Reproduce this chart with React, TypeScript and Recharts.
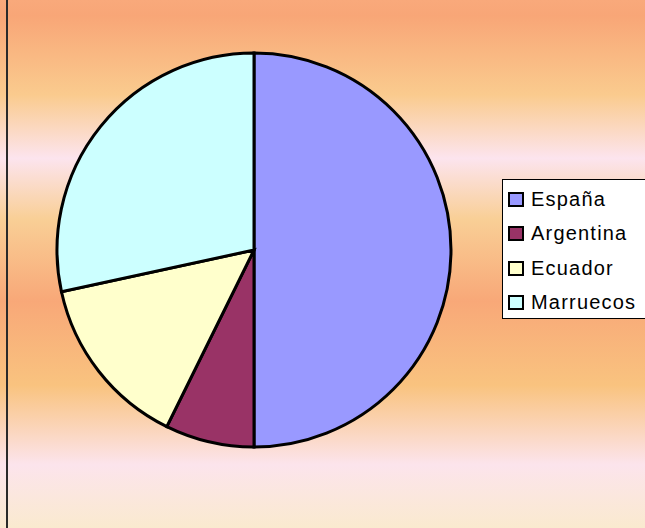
import { PieChart, Pie, Cell, Legend } from "recharts";

const countries = ["España", "Argentina", "Ecuador", "Marruecos"];
const shares = [50, 7.3, 14.3, 28.4];
const colors = ["#9999FF", "#993366", "#FFFFCC", "#CCFFFF"];

const data = countries.map((name, i) => ({ name, value: shares[i] }));

const bg =
  "linear-gradient(to bottom, #F9A97B 0%, #F8A677 3%, #FACB8E 18%, #FCE4EE 30%, #F9CF96 41.5%, #F8A878 57%, #F9C37F 73%, #FCE4EC 88%, #FAEACF 100%)";

function LegendBox() {
  return (
    <div
      style={{
        background: "#fff",
        border: "1px solid #000",
        width: 150,
        height: 140,
        boxSizing: "border-box",
        padding: "2px 0 0 5px",
        fontFamily: "'Liberation Sans', Arial, sans-serif",
        fontSize: 20,
        letterSpacing: 1.2,
        color: "#000",
      }}
    >
      {countries.map((c, i) => (
        <div
          key={c}
          style={{ display: "flex", alignItems: "center", height: 34.5 }}
        >
          <span
            style={{
              display: "inline-block",
              width: 12,
              height: 11,
              background: colors[i],
              border: "2px solid #000",
              marginRight: 7,
            }}
          />
          <span>{c}</span>
        </div>
      ))}
    </div>
  );
}

export default function App() {
  return (
    <div
      style={{
        position: "absolute",
        left: 0,
        top: 0,
        width: 645,
        height: 528,
        overflow: "hidden",
        background: bg,
      }}
    >
      <div
        style={{
          position: "absolute",
          left: 6,
          top: 0,
          width: 2,
          height: 528,
          background: "#2a2a2a",
        }}
      />
      <PieChart
        width={645}
        height={528}
        margin={{ top: 0, right: 0, bottom: 0, left: 0 }}
        style={{ position: "absolute", left: 0, top: 0 }}
      >
        <Pie
          data={data}
          dataKey="value"
          nameKey="name"
          cx={254}
          cy={250}
          outerRadius={197}
          startAngle={90}
          endAngle={-270}
          stroke="#000"
          strokeWidth={3}
          isAnimationActive={false}
        >
          {data.map((d, i) => (
            <Cell key={d.name} fill={colors[i]} />
          ))}
        </Pie>
        <Legend
          content={() => <LegendBox />}
          wrapperStyle={{ position: "absolute", left: 502, top: 179, width: 150 }}
        />
      </PieChart>
    </div>
  );
}
